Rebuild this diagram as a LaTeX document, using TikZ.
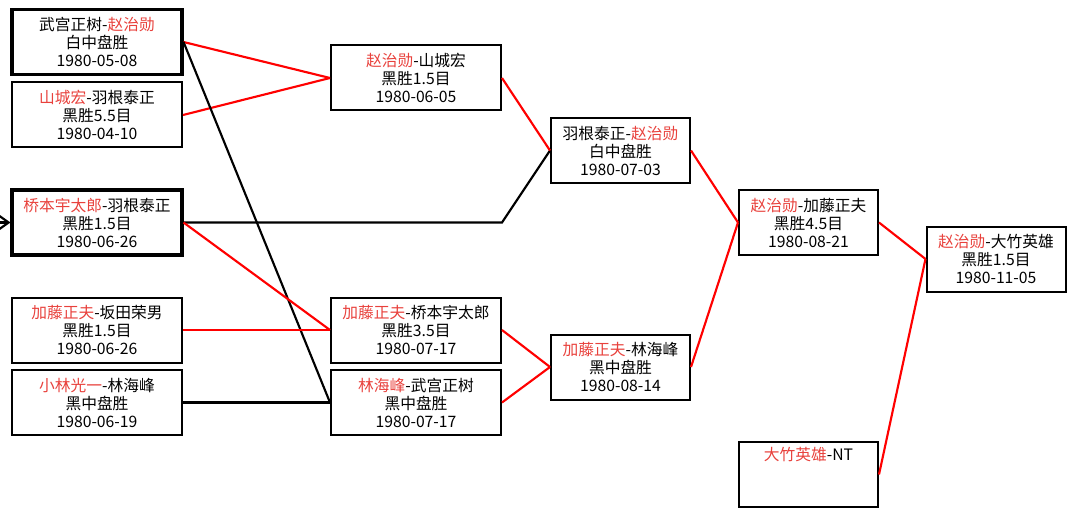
\documentclass[tikz,border=0pt]{standalone}
\usepackage{fontspec}
\setmainfont{Noto Sans CJK SC}
\usepackage{xcolor}
\usepackage{tikz}
\usetikzlibrary{arrows.meta}
\definecolor{namered}{HTML}{E8413C}
\definecolor{linered}{HTML}{FF0000}

\begin{document}
\begin{tikzpicture}[
  x=0.75pt,y=-0.75pt,
  font=\fontsize{11.8}{13.5}\selectfont,
  game/.style={draw=black,line width=1.5pt,minimum width=127.5pt,minimum height=48.75pt,align=center,inner sep=0pt},
  wide/.style={game,minimum width=104.25pt},
  keyg/.style={line width=2.3pt},
  win/.style={draw=linered,line width=1.6pt},
  lose/.style={draw=black,line width=1.6pt}
]
\useasboundingbox (0,0) rectangle (1076,517);
% round 1
\node[game,keyg] (a) at (97,42) {武宫正树-\textcolor{namered}{赵治勋}\\白中盘胜\\1980-05-08};
\node[game] (b) at (97,115) {\textcolor{namered}{山城宏}-羽根泰正\\黑胜5.5目\\1980-04-10};
\node[game,keyg] (c) at (97,222.5) {\textcolor{namered}{桥本宇太郎}-羽根泰正\\黑胜1.5目\\1980-06-26};
\node[game] (d) at (97,330) {\textcolor{namered}{加藤正夫}-坂田荣男\\黑胜1.5目\\1980-06-26};
\node[game] (e) at (97,402.5) {\textcolor{namered}{小林光一}-林海峰\\黑中盘胜\\1980-06-19};
% round 2
\node[game] (f) at (416,78) {\textcolor{namered}{赵治勋}-山城宏\\黑胜1.5目\\1980-06-05};
\node[game] (g) at (416,330) {\textcolor{namered}{加藤正夫}-桥本宇太郎\\黑胜3.5目\\1980-07-17};
\node[game] (h) at (416,402.5) {\textcolor{namered}{林海峰}-武宫正树\\黑中盘胜\\1980-07-17};
% round 3
\node[wide] (i) at (620.5,150.5) {羽根泰正-\textcolor{namered}{赵治勋}\\白中盘胜\\1980-07-03};
\node[wide] (j) at (620.5,367) {\textcolor{namered}{加藤正夫}-林海峰\\黑中盘胜\\1980-08-14};
% round 4
\node[wide] (k) at (808.5,222.5) {\textcolor{namered}{赵治勋}-加藤正夫\\黑胜4.5目\\1980-08-21};
\node[wide] (l) at (808.5,474.5) {\textcolor{namered}{大竹英雄}-NT\\\strut\\\strut};
% final
\node[wide] (m) at (996,259) {\textcolor{namered}{赵治勋}-大竹英雄\\黑胜1.5目\\1980-11-05};

\coordinate (in) at (0,222.5);
\draw[lose,-{Straight Barb[length=7pt,width=10pt]}] (in) -- (c.west);

\draw[win] (a.east) -- (f.west);
\draw[win] (b.east) -- (f.west);
\draw[lose] (a.east) -- (h.west);
\draw[lose] (c.east) -- (c.east -| g.east) -- (i.west);
\draw[win] (c.east) -- (g.west);
\draw[win] (d.east) -- (g.west);
\draw[lose] (e.east) -- (h.west);
\draw[win] (f.east) -- (i.west);
\draw[win] (g.east) -- (j.west);
\draw[win] (h.east) -- (j.west);
\draw[win] (i.east) -- (k.west);
\draw[win] (j.east) -- (k.west);
\draw[win] (k.east) -- (m.west);
\draw[win] (l.east) -- (m.west);
\end{tikzpicture}
\end{document}
